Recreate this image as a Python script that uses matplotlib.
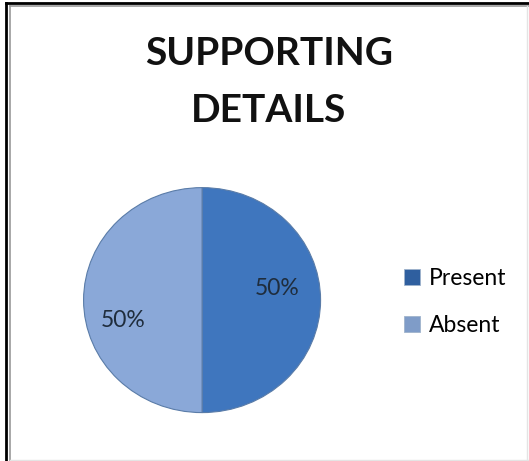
import matplotlib
matplotlib.use("Agg")
import matplotlib.pyplot as plt
from matplotlib.lines import Line2D
from matplotlib.patches import Rectangle

labels = ["Present", "Absent"]
values = [50, 50]
colors = ["#3f76be", "#8aa8d8"]
title_lines = ["SUPPORTING", "DETAILS"]

plt.rcParams["font.family"] = ["Lato", "DejaVu Sans"]

fig = plt.figure(figsize=(5.29, 4.61), dpi=100)

# pie slightly wider than tall, like the reference
ax = fig.add_axes([0.158, 0.105, 0.448, 0.488])
wedges, texts, autotexts = ax.pie(values, colors=colors, startangle=90,
                                  counterclock=False, autopct="%1.0f%%",
                                  pctdistance=0.64,
                                  wedgeprops=dict(edgecolor="#5a7ca8", linewidth=0.8),
                                  textprops=dict(fontsize=16.5, color="#1f2d3d"))
ax.set_aspect("auto")
ax.set_xlim(-1.0, 1.0)
ax.set_ylim(-1.0, 1.0)

# nudge the percent labels the way Excel placed them
autotexts[0].set_position((0.63, 0.10))
autotexts[1].set_position((-0.67, -0.18))

for line, y in zip(title_lines, [0.859, 0.735]):
    fig.text(0.508, y, line, ha="center", va="baseline", fontsize=28,
             fontweight="bold", color="#111111")

handles = [Rectangle((0, 0), 1, 1, facecolor=c, edgecolor="#9fb3cc", linewidth=0.6)
           for c in ["#2f5f9f", "#7f9cc8"]]
fig.legend(handles, labels, loc="center left", bbox_to_anchor=(0.763, 0.345),
           frameon=False, fontsize=16.5, handlelength=0.72, handleheight=0.72,
           handletextpad=0.4, labelspacing=1.15, borderpad=0, borderaxespad=0)

# frame like the pasted screenshot
fig.add_artist(Line2D([0.011, 0.011], [0.0, 0.993], color="black", lw=2.0))
fig.add_artist(Line2D([0.011, 1.0], [0.993, 0.993], color="black", lw=2.0))
fig.add_artist(Line2D([0.018, 0.018], [0.0, 0.986], color="#999999", lw=1.2))
fig.add_artist(Line2D([0.018, 1.0], [0.986, 0.986], color="#999999", lw=1.2))
fig.add_artist(Line2D([0.997, 0.997], [0.0, 0.986], color="#e4e4e4", lw=1.0))
fig.add_artist(Line2D([0.018, 1.0], [0.002, 0.002], color="#e4e4e4", lw=1.0))

fig.savefig("out.png", dpi=100)
